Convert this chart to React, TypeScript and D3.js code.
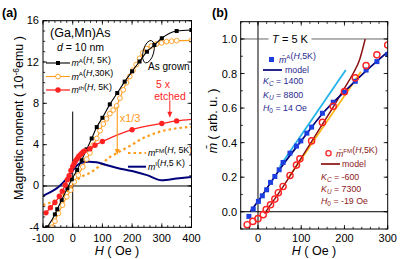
import React from "react";
import * as d3 from "d3";

type Pt = [number, number];

// ---- panel (a): H (Oe) vs magnetic moment (1e-6 emu)
const aTickX = [-100, 0, 100, 200, 300, 400];
const aTickY = [-4, 0, 4, 8, 12, 16];

const mA5K: Pt[] = [
  [-86, -4.0], [-60, -2.75], [-52, -2.25], [-37, -1.35], [-18, -0.22], [-3, 0.65],
  [15, 1.55], [30, 2.5], [47, 3.55], [64, 4.6], [81, 5.7], [100, 6.6], [125, 7.9],
  [150, 9.0], [175, 10.1], [200, 11.1], [225, 12.05], [250, 13.0], [275, 13.65],
  [300, 14.3], [350, 15.0], [400, 15.1],
];
const mA30K: Pt[] = [
  [-70, -4.0], [-60, -3.4], [-48, -2.65], [-34, -1.85], [-20, -1.05], [-7, -0.4], [5, 0.4],
  [19, 1.05], [34, 1.85], [47, 2.6], [58, 3.2], [69, 3.95], [81, 4.6], [92, 5.35],
  [103, 6.0], [114, 6.5], [125, 7.0], [136, 7.35], [148, 7.75], [159, 8.5], [170, 9.3],
  [181, 10.0], [192, 10.6], [203, 11.2], [214, 11.75], [225, 12.35], [236, 12.9],
  [249, 13.3], [265, 13.55], [282, 13.75], [299, 13.85], [316, 13.97], [333, 14.02],
  [350, 14.07], [400, 14.1],
];
const mTh5K: Pt[] = [
  [-90, -2.6], [-75, -2.1], [-60, -1.6], [-45, -1.0], [-35, -0.5], [-25, 0.1],
  [-18, 0.6], [-12, 1.0], [-6, 1.5], [0, 1.9], [5, 2.2], [10, 2.45], [15, 2.65],
  [20, 2.85], [25, 3.0], [30, 3.15], [35, 3.3], [40, 3.4], [58, 3.6], [75, 3.95],
  [100, 4.3], [200, 5.45], [300, 6.05], [350, 6.3], [400, 6.45],
];
const mFM5K: Pt[] = [
  [-100, -1.85], [-75, -1.6], [-50, -1.2], [-30, -0.8], [-15, -0.4], [0, 0.15],
  [15, 0.6], [30, 0.9], [45, 1.1], [60, 1.3], [80, 1.7], [100, 2.2], [125, 2.8],
  [150, 3.2], [175, 3.6], [200, 4.0], [225, 4.45], [250, 4.8], [277, 5.1],
  [300, 5.3], [350, 5.58], [400, 5.72],
];
const mI5K: Pt[] = [
  [-100, -0.95], [-75, -0.6], [-50, -0.15], [-30, 0.4], [-15, 0.9], [0, 1.5],
  [15, 2.0], [30, 2.25], [55, 2.35], [80, 2.3], [110, 2.05], [150, 1.75],
  [200, 1.45], [250, 1.05], [300, 0.55], [350, 0.72], [400, 0.88],
];

// ---- panel (b): H (Oe) vs normalised m
const bTickX = [0, 100, 200, 300];
const bTickY = [0, 0.2, 0.4, 0.6, 0.8, 1.0];

const mBarA: Pt[] = [
  [-21, -0.027], [-11, 0.016], [1, 0.06], [10, 0.092], [20, 0.127], [29, 0.17],
  [39, 0.204], [49, 0.243], [58, 0.285], [74, 0.339], [89, 0.38], [99, 0.41],
  [113, 0.455], [124, 0.49], [149, 0.57], [174, 0.634], [200, 0.69], [225, 0.755],
  [250, 0.82], [275, 0.869], [300, 0.91],
];
const modelA: Pt[] = [
  [-18, 0], [0, 0.06], [50, 0.245], [100, 0.41], [150, 0.57], [200, 0.695],
  [250, 0.815], [300, 0.925],
];
const mBarFM: Pt[] = [
  [-25, -0.075], [-12, -0.056], [0, -0.04], [12, -0.017], [19, 0.012], [29, 0.04],
  [39, 0.073], [47, 0.11], [58, 0.146], [74, 0.21], [89, 0.27], [97, 0.306],
  [124, 0.41], [149, 0.517], [174, 0.61], [200, 0.695], [225, 0.775], [250, 0.846],
  [275, 0.908], [300, 0.965],
];
const modelFM: Pt[] = [
  [15, -0.01], [50, 0.115], [100, 0.31], [150, 0.51], [175, 0.61], [200, 0.715],
  [220, 0.8], [235, 0.88], [248, 1.0],
];
const tangentA: Pt[] = [[50, 0.26], [203, 0.82]];
const tangentFM: Pt[] = [[70, 0.195], [238, 0.81]];

const FONT = "'Liberation Sans', Arial, Helvetica, sans-serif";

const xa = d3.scaleLinear().domain([-100, 400]).range([43, 191.5]);
const ya = d3.scaleLinear().domain([-4, 16]).range([227.3, 20.7]);
const xb = d3.scaleLinear().domain([-40, 300]).range([240.7, 387.7]);
const yb = d3.scaleLinear().domain([-0.1, 1.1]).range([229, 21.7]);

type Lin = d3.ScaleLinear<number, number>;

function Frame(props: {
  x: Lin; y: Lin; xMajor: number[]; yMajor: number[]; xMinor: number[]; yMinor: number[];
}) {
  const { x, y } = props;
  const [l, r] = x.range();
  const [b, t] = y.range();
  const els: React.ReactNode[] = [];
  const tick = (v: number, len: number, k: string, vert: boolean) => {
    if (vert) {
      const px = x(v);
      els.push(<line key={k + "b"} x1={px} x2={px} y1={b} y2={b - len} />);
      els.push(<line key={k + "t"} x1={px} x2={px} y1={t} y2={t + len} />);
    } else {
      const py = y(v);
      els.push(<line key={k + "l"} x1={l} x2={l + len} y1={py} y2={py} />);
      els.push(<line key={k + "r"} x1={r} x2={r - len} y1={py} y2={py} />);
    }
  };
  props.xMinor.forEach((v, i) => tick(v, 2.2, "xm" + i, true));
  props.xMajor.forEach((v, i) => tick(v, 4, "xM" + i, true));
  props.yMinor.forEach((v, i) => tick(v, 2.2, "ym" + i, false));
  props.yMajor.forEach((v, i) => tick(v, 4, "yM" + i, false));
  return (
    <g stroke="#000" strokeWidth={0.8} fill="none">
      {els}
      <rect x={l} y={t} width={r - l} height={b - t} strokeWidth={1} />
    </g>
  );
}

const lineA = (d: Pt[], curve: d3.CurveFactory = d3.curveMonotoneX) =>
  d3.line<Pt>().x((p) => xa(p[0])).y((p) => ya(p[1])).curve(curve)(d) || "";
const lineB = (d: Pt[], curve: d3.CurveFactory = d3.curveMonotoneX) =>
  d3.line<Pt>().x((p) => xb(p[0])).y((p) => yb(p[1])).curve(curve)(d) || "";

function Sup(p: { t: string }) {
  return (
    <>
      <tspan dy={-3.5} fontSize="0.7em">{p.t}</tspan>
      <tspan dy={3.5}></tspan>
    </>
  );
}

export default function App() {
  const fmt1 = d3.format(".1f");
  const ORANGE = "#ff9a1a";
  const RED = "#ff2222";
  const NAVY = "#00007a";
  const BLUE = "#1d3fe0";
  const MAROON = "#8b1212";
  const CYAN = "#23b3ea";
  const GOLD = "#ffb51c";
  const BLUE_TXT = "#2a2a90";
  const MAROON_TXT = "#8b1a1a";

  const arrowHead = (x: number, y: number, color: string) => (
    <path d={`M${x - 2.5},${y - 6} L${x + 2.5},${y - 6} L${x},${y} Z`} fill={color} />
  );

  return (
    <svg width={411} height={259} style={{ position: "absolute", left: 0, top: 0, background: "#fff" }}
      fontFamily={FONT}>
      <defs>
        <clipPath id="ca"><rect x={43} y={20.7} width={148.5} height={206.6} /></clipPath>
        <clipPath id="cb"><rect x={240.7} y={21.7} width={147} height={207.3} /></clipPath>
      </defs>

      {/* ===== panel (a) ===== */}
      <text x={2} y={17} fontSize={12.5} fontWeight="bold">(a)</text>
      <g clipPath="url(#ca)">
        <line x1={xa(-100)} x2={xa(400)} y1={ya(0)} y2={ya(0)} stroke="#000" strokeWidth={1} />
        <line x1={xa(0)} x2={xa(0)} y1={ya(7.2)} y2={ya(-4)} stroke="#000" strokeWidth={1} />

        <path d={lineA(mFM5K)} fill="none" stroke={ORANGE} strokeWidth={2.2} strokeDasharray="2.5,3" />
        <path d={lineA(mI5K)} fill="none" stroke={NAVY} strokeWidth={2} />
        <path d={lineA(mA30K)} fill="none" stroke={ORANGE} strokeWidth={1.1} />
        {mA30K.map((p, i) => (
          <circle key={"o" + i} cx={xa(p[0])} cy={ya(p[1])} r={2.4} fill="#fff" stroke={ORANGE} strokeWidth={0.9} />
        ))}
        <path d={lineA(mA5K)} fill="none" stroke="#000" strokeWidth={1.1} />
        {mA5K.map((p, i) => (
          <rect key={"s" + i} x={xa(p[0]) - 2} y={ya(p[1]) - 2} width={4} height={4} fill="#000" />
        ))}
        <path d={lineA(mTh5K)} fill="none" stroke={RED} strokeWidth={1.3} />
        {mTh5K.filter((p) => p[0] !== 400).map((p, i) => (
          <circle key={"r" + i} cx={xa(p[0])} cy={ya(p[1])} r={2.7} fill={RED} />
        ))}
      </g>
      <Frame x={xa} y={ya} xMajor={aTickX} yMajor={aTickY}
        xMinor={d3.range(-100, 401, 20)} yMinor={d3.range(-4, 16.01, 1)} />
      <g fontSize={11} textAnchor="middle">
        {aTickX.map((v) => (
          <text key={v} x={xa(v)} y={242}>{v}</text>
        ))}
      </g>
      <g fontSize={11} textAnchor="end">
        {aTickY.map((v) => (
          <text key={v} x={39} y={ya(v) + 3.5}>{v}</text>
        ))}
      </g>
      <text x={117} y={254.5} fontSize={12.5} textAnchor="middle">
        <tspan fontStyle="italic">H</tspan>{"  ( Oe )"}
      </text>
      <text transform="translate(23,118) rotate(-90)" fontSize={12.5} textAnchor="middle">
        {"Magnetic moment  ( 10"}
        <tspan dy={-4} fontSize={8.5}>-6</tspan>
        <tspan dy={4}>emu )</tspan>
      </text>

      {/* annotations (a) */}
      <text x={50} y={36.5} fontSize={12.5}>(Ga,Mn)As</text>
      <text x={57} y={50.5} fontSize={10.5}>
        <tspan fontStyle="italic">d</tspan> = 10 nm
      </text>
      <g fontSize={8.8}>
        <line x1={46} x2={70} y1={63} y2={63} stroke="#000" strokeWidth={1.1} />
        <rect x={56} y={61} width={4} height={4} fill="#000" />
        <text x={71.5} y={66}>
          <tspan fontStyle="italic">m</tspan><Sup t="A" />(<tspan fontStyle="italic">H</tspan>, 5K)
        </text>
        <line x1={46} x2={70} y1={76.5} y2={76.5} stroke={ORANGE} strokeWidth={1.1} />
        <circle cx={58} cy={76.5} r={2.4} fill="#fff" stroke={ORANGE} strokeWidth={0.9} />
        <text x={71.5} y={79.5}>
          <tspan fontStyle="italic">m</tspan><Sup t="A" />(<tspan fontStyle="italic">H</tspan>,30K)
        </text>
        <line x1={46} x2={70} y1={90} y2={90} stroke={RED} strokeWidth={1.3} />
        <circle cx={58} cy={90} r={2.7} fill={RED} />
        <text x={71.5} y={93}>
          <tspan fontStyle="italic">m</tspan><Sup t="th" />(<tspan fontStyle="italic">H</tspan>, 5K)
        </text>

        <line x1={128} x2={146} y1={153} y2={153} stroke={ORANGE} strokeWidth={2.2} strokeDasharray="2.5,3" />
        <text x={148} y={156}>
          <tspan fontStyle="italic">m</tspan><Sup t="FM" />(<tspan fontStyle="italic">H</tspan>, 5K)
        </text>
        <line x1={128} x2={146} y1={166.7} y2={166.7} stroke={NAVY} strokeWidth={2} />
        <text x={148} y={169.7}>
          <tspan fontStyle="italic">m</tspan><Sup t="I" />(<tspan fontStyle="italic">H</tspan>,5 K)
        </text>
      </g>
      <ellipse cx={xa(255)} cy={ya(13)} rx={5.3} ry={11.5} fill="none" stroke="#000" strokeWidth={0.9}
        transform={`rotate(15 ${xa(255)} ${ya(13)})`} />
      <text x={148} y={69.5} fontSize={10}>As grown</text>
      <text x={163} y={88} fontSize={10.5} fill={RED} textAnchor="middle">5 x</text>
      <text x={170} y={99.5} fontSize={10.5} fill={RED} textAnchor="middle">etched</text>
      <line x1={xa(327)} x2={xa(327)} y1={ya(8.3)} y2={ya(6.6) - 5} stroke={RED} strokeWidth={1} />
      {arrowHead(xa(327), ya(6.6), RED)}
      <line x1={xa(150)} x2={xa(150)} y1={ya(7.7)} y2={ya(3.0) - 5} stroke={ORANGE} strokeWidth={1.1} />
      {arrowHead(xa(150), ya(3.0), ORANGE)}
      <text x={xa(158)} y={ya(6.6) + 4} fontSize={11} fill={ORANGE}>x1/3</text>

      {/* ===== panel (b) ===== */}
      <text x={212} y={17} fontSize={12.5} fontWeight="bold">(b)</text>
      <g clipPath="url(#cb)">
        <line x1={xb(-40)} x2={xb(300)} y1={yb(0)} y2={yb(0)} stroke="#000" strokeWidth={1} />
        <line x1={xb(0)} x2={xb(0)} y1={yb(1.1)} y2={yb(-0.1)} stroke="#000" strokeWidth={1} />
        <line x1={xb(-40)} x2={xb(300)} y1={yb(1)} y2={yb(1)} stroke="#555" strokeWidth={0.9} />
        <path d={lineB(tangentA, d3.curveLinear)} fill="none" stroke={CYAN} strokeWidth={1.8} />
        <path d={lineB(tangentFM, d3.curveLinear)} fill="none" stroke={GOLD} strokeWidth={1.8} />
        <path d={lineB(modelFM)} fill="none" stroke={MAROON} strokeWidth={1.5} />
        <path d={lineB(modelA)} fill="none" stroke={NAVY} strokeWidth={1.7} />
        {mBarA.map((p, i) => (
          <rect key={"b" + i} x={xb(p[0]) - 2.5} y={yb(p[1]) - 2.5} width={5} height={5} fill={BLUE} />
        ))}
        {mBarFM.map((p, i) => (
          <circle key={"c" + i} cx={xb(p[0])} cy={yb(p[1])} r={3.1} fill="none" stroke={RED} strokeWidth={1.4} />
        ))}
      </g>
      <rect x={268.5} y={33} width={43} height={12} fill="#fff" />
      <text x={290} y={43} fontSize={11} textAnchor="middle">
        <tspan fontStyle="italic">T</tspan> = 5 K
      </text>
      <Frame x={xb} y={yb} xMajor={bTickX} yMajor={bTickY}
        xMinor={d3.range(-40, 301, 20)} yMinor={d3.range(-0.1, 1.101, 0.1)} />
      <g fontSize={11} textAnchor="middle">
        {bTickX.map((v) => (
          <text key={v} x={xb(v)} y={242}>{v}</text>
        ))}
      </g>
      <g fontSize={11} textAnchor="end">
        {bTickY.map((v) => (
          <text key={v} x={237} y={yb(v) + 4}>{fmt1(v)}</text>
        ))}
      </g>
      <text x={314} y={254.5} fontSize={12.5} textAnchor="middle">
        <tspan fontStyle="italic">H</tspan>{"  ( Oe )"}
      </text>
      <text transform="translate(217,121) rotate(-90)" fontSize={12.5} textAnchor="middle">
        <tspan fontStyle="italic">{"m\u0304"}</tspan>{"  ( arb. u. )"}
      </text>

      {/* legends (b) */}
      <g fontSize={8.8} fill={BLUE_TXT}>
        <rect x={269} y={57} width={5} height={5} fill={BLUE} />
        <text x={279} y={62.5}>
          <tspan fontStyle="italic">{"m\u0304"}</tspan><Sup t="A" />(<tspan fontStyle="italic">H</tspan>,5K)
        </text>
        <line x1={263} x2={282} y1={70} y2={70} stroke={NAVY} strokeWidth={1.7} />
        <text x={285} y={73}>model</text>
        <text x={263} y={84}>
          <tspan fontStyle="italic">K</tspan><tspan dy={2} fontSize={6.5} fontStyle="italic">C</tspan>
          <tspan dy={-2}> = 1400</tspan>
        </text>
        <text x={263} y={97.5}>
          <tspan fontStyle="italic">K</tspan><tspan dy={2} fontSize={6.5} fontStyle="italic">U</tspan>
          <tspan dy={-2}> = 8800</tspan>
        </text>
        <text x={263} y={111}>
          <tspan fontStyle="italic">H</tspan><tspan dy={2} fontSize={6.5}>0</tspan>
          <tspan dy={-2}> = 14 Oe</tspan>
        </text>
      </g>
      <g fontSize={8.8} fill={MAROON_TXT}>
        <circle cx={328.5} cy={153.3} r={2.6} fill="none" stroke={RED} strokeWidth={1.3} />
        <text x={336} y={156.5}>
          <tspan fontStyle="italic">{"m\u0304"}</tspan><Sup t="FM" />(<tspan fontStyle="italic">H</tspan>,5K)
        </text>
        <line x1={321} x2={340} y1={164} y2={164} stroke={MAROON} strokeWidth={1.7} />
        <text x={342} y={167}>model</text>
        <text x={321} y={179.5}>
          <tspan fontStyle="italic">K</tspan><tspan dy={2} fontSize={6.5} fontStyle="italic">C</tspan>
          <tspan dy={-2}> = -600</tspan>
        </text>
        <text x={321} y={191.5}>
          <tspan fontStyle="italic">K</tspan><tspan dy={2} fontSize={6.5} fontStyle="italic">U</tspan>
          <tspan dy={-2}> = 7300</tspan>
        </text>
        <text x={321} y={203.5}>
          <tspan fontStyle="italic">H</tspan><tspan dy={2} fontSize={6.5}>0</tspan>
          <tspan dy={-2}> = -19 Oe</tspan>
        </text>
      </g>
    </svg>
  );
}
